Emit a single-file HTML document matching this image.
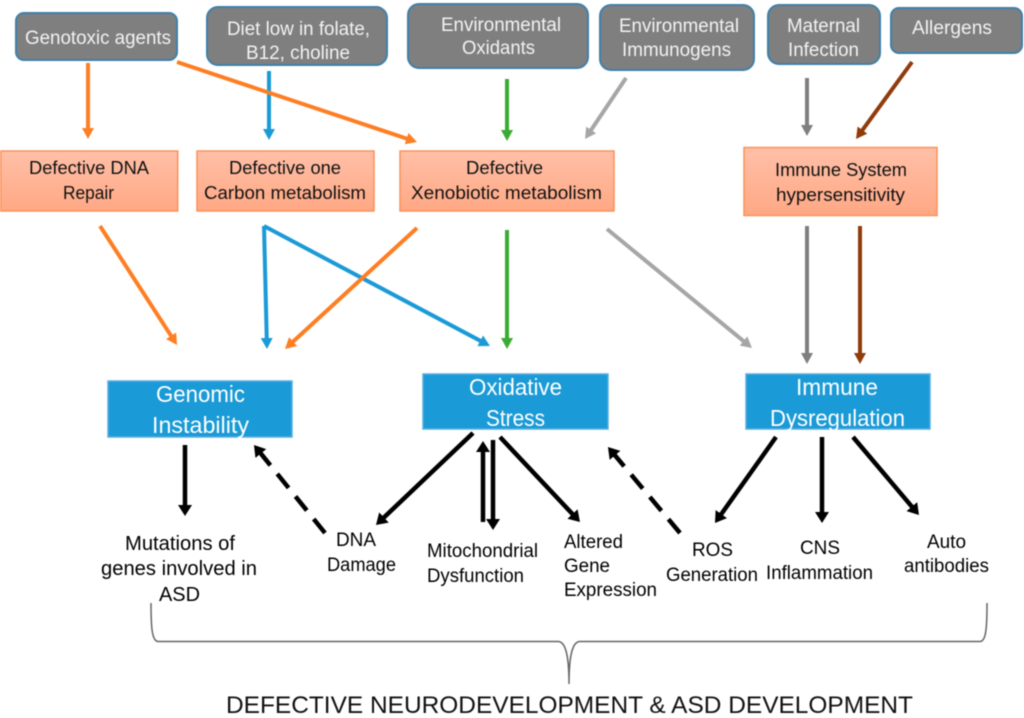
<!DOCTYPE html>
<html><head><meta charset="utf-8"><style>
html,body{margin:0;padding:0;background:#fff;width:1024px;height:718px;overflow:hidden}
svg{display:block;filter:blur(0.4px)}
text{font-family:"Liberation Sans",sans-serif;text-anchor:start}
.g text,.g{fill:#f2f2f2;font-size:19px}
.o{fill:#111;font-size:18.500px}
.b{fill:#fff;font-size:23px}
.k{fill:#000;font-size:19px}
.gb{fill:#7f7f7f;stroke:#3f80a8;stroke-width:2}
.ob{fill:url(#og);stroke:#fb9259;stroke-width:1.5}
.bb{fill:#1a9ad6;stroke:#5aaee0;stroke-width:1.5}
line{fill:none}
</style></head><body>
<svg width="1024" height="718" viewBox="0 0 1024 718" xmlns="http://www.w3.org/2000/svg">
<defs>
<linearGradient id="og" x1="0" y1="0" x2="0" y2="1"><stop offset="0" stop-color="#ffc0a8"/><stop offset="1" stop-color="#ffa884"/></linearGradient>
<marker id="mo" markerUnits="userSpaceOnUse" markerWidth="14" markerHeight="14" refX="3" refY="6.500" orient="auto"><path d="M0 0.500L11 6.500L0 12.500Z" fill="#fd7e23"/></marker>
<marker id="mb" markerUnits="userSpaceOnUse" markerWidth="14" markerHeight="14" refX="3" refY="6.500" orient="auto"><path d="M0 0.500L11 6.500L0 12.500Z" fill="#1a9ad6"/></marker>
<marker id="mg" markerUnits="userSpaceOnUse" markerWidth="14" markerHeight="14" refX="3" refY="6.500" orient="auto"><path d="M0 0.500L11 6.500L0 12.500Z" fill="#3cab34"/></marker>
<marker id="ml" markerUnits="userSpaceOnUse" markerWidth="14" markerHeight="14" refX="3" refY="6.500" orient="auto"><path d="M0 0.500L11 6.500L0 12.500Z" fill="#a6a6a6"/></marker>
<marker id="md" markerUnits="userSpaceOnUse" markerWidth="14" markerHeight="14" refX="3" refY="6.500" orient="auto"><path d="M0 0.500L11 6.500L0 12.500Z" fill="#7f7f7f"/></marker>
<marker id="mr" markerUnits="userSpaceOnUse" markerWidth="14" markerHeight="14" refX="3" refY="6.500" orient="auto"><path d="M0 0.500L11 6.500L0 12.500Z" fill="#8f3b0a"/></marker>
<marker id="mk" markerUnits="userSpaceOnUse" markerWidth="16" markerHeight="16" refX="3" refY="7" orient="auto"><path d="M0 0L11 7L0 14Z" fill="#000"/></marker>
</defs>

<!-- grey source boxes -->
<rect class="gb" x="16" y="13" width="161" height="47" rx="8"/>
<rect class="gb" x="207" y="7" width="180" height="58" rx="11"/>
<rect class="gb" x="408" y="4" width="180" height="64" rx="11"/>
<rect class="gb" x="600" y="5" width="154" height="65" rx="11"/>
<rect class="gb" x="768" y="5" width="112" height="59" rx="11"/>
<rect class="gb" x="891" y="8" width="131" height="45" rx="8"/>
<g class="g">
<text x="25" y="44" textLength="146" lengthAdjust="spacingAndGlyphs">Genotoxic agents</text>
<text x="227" y="35" textLength="143" lengthAdjust="spacingAndGlyphs">Diet low in folate,</text>
<text x="246" y="59" textLength="104" lengthAdjust="spacingAndGlyphs">B12, choline</text>
<text x="441" y="31" textLength="120" lengthAdjust="spacingAndGlyphs">Environmental</text>
<text x="462" y="54" textLength="73" lengthAdjust="spacingAndGlyphs">Oxidants</text>
<text x="619" y="32" textLength="120" lengthAdjust="spacingAndGlyphs">Environmental</text>
<text x="622" y="56" textLength="109" lengthAdjust="spacingAndGlyphs">Immunogens</text>
<text x="787" y="32" textLength="73" lengthAdjust="spacingAndGlyphs">Maternal</text>
<text x="788" y="56" textLength="71" lengthAdjust="spacingAndGlyphs">Infection</text>
<text x="912" y="34" textLength="80" lengthAdjust="spacingAndGlyphs">Allergens</text>
</g>

<!-- orange boxes -->
<rect class="ob" x="0.7" y="151" width="177" height="60"/>
<rect class="ob" x="197" y="151" width="177" height="60"/>
<rect class="ob" x="400" y="151" width="214" height="60"/>
<rect class="ob" x="744" y="147.500" width="193" height="68"/>
<g class="o">
<text x="29" y="174" textLength="120" lengthAdjust="spacingAndGlyphs">Defective DNA</text>
<text x="63" y="199" textLength="51" lengthAdjust="spacingAndGlyphs">Repair</text>
<text x="229" y="174" textLength="112" lengthAdjust="spacingAndGlyphs">Defective one</text>
<text x="204" y="199" textLength="162" lengthAdjust="spacingAndGlyphs">Carbon metabolism</text>
<text x="466" y="174" textLength="77" lengthAdjust="spacingAndGlyphs">Defective</text>
<text x="411" y="199" textLength="191" lengthAdjust="spacingAndGlyphs">Xenobiotic metabolism</text>
<text x="775" y="176" textLength="132" lengthAdjust="spacingAndGlyphs">Immune System</text>
<text x="776" y="201" textLength="129" lengthAdjust="spacingAndGlyphs">hypersensitivity</text>
</g>

<!-- blue boxes -->
<rect class="bb" x="108" y="381" width="184" height="56"/>
<rect class="bb" x="423" y="374" width="185" height="55"/>
<rect class="bb" x="746" y="374" width="184" height="55"/>
<g class="b">
<text x="156" y="402" textLength="89" lengthAdjust="spacingAndGlyphs">Genomic</text>
<text x="152" y="433" textLength="97" lengthAdjust="spacingAndGlyphs">Instability</text>
<text x="469" y="395" textLength="93" lengthAdjust="spacingAndGlyphs">Oxidative</text>
<text x="486" y="426" textLength="59" lengthAdjust="spacingAndGlyphs">Stress</text>
<text x="796" y="395" textLength="82" lengthAdjust="spacingAndGlyphs">Immune</text>
<text x="770" y="426" textLength="135" lengthAdjust="spacingAndGlyphs">Dysregulation</text>
</g>

<!-- coloured arrows -->
<g stroke-width="4">
<line x1="88" y1="63" x2="88" y2="131" stroke="#fd7e23" marker-end="url(#mo)"/>
<line x1="269" y1="71" x2="269" y2="132" stroke="#1a9ad6" marker-end="url(#mb)"/>
<line x1="177" y1="62" x2="409.400" y2="139.500" stroke="#fd7e23" marker-end="url(#mo)"/>
<line x1="507" y1="79" x2="507" y2="133" stroke="#3cab34" marker-end="url(#mg)"/>
<line x1="626" y1="78" x2="589.500" y2="132.400" stroke="#a6a6a6" marker-end="url(#ml)"/>
<line x1="807" y1="78" x2="807" y2="128" stroke="#7f7f7f" marker-end="url(#md)"/>
<line x1="912" y1="62" x2="860.700" y2="132.500" stroke="#8f3b0a" marker-end="url(#mr)"/>
<line x1="100" y1="226" x2="172.700" y2="338.300" stroke="#fd7e23" marker-end="url(#mo)"/>
<line x1="264" y1="226" x2="266.800" y2="341" stroke="#1a9ad6" marker-end="url(#mb)"/>
<line x1="264" y1="226" x2="482.900" y2="342.200" stroke="#1a9ad6" marker-end="url(#mb)"/>
<line x1="417" y1="228" x2="290.900" y2="343.600" stroke="#fd7e23" marker-end="url(#mo)"/>
<line x1="507" y1="230" x2="507" y2="341" stroke="#3cab34" marker-end="url(#mg)"/>
<line x1="607" y1="229" x2="745.800" y2="342.900" stroke="#a6a6a6" marker-end="url(#ml)"/>
<line x1="807" y1="226" x2="807" y2="356" stroke="#7f7f7f" marker-end="url(#md)"/>
<line x1="860" y1="226" x2="860" y2="356" stroke="#8f3b0a" marker-end="url(#mr)"/>
</g>

<!-- black arrows -->
<g stroke="#000" stroke-width="4.500">
<line x1="185" y1="445" x2="185" y2="508" marker-end="url(#mk)"/>
<line x1="325" y1="533" x2="259" y2="451.200" stroke-dasharray="18 11" marker-end="url(#mk)"/>
<line x1="473" y1="433" x2="381.800" y2="519.500" marker-end="url(#mk)"/>
<line x1="483" y1="522" x2="483" y2="449" marker-end="url(#mk)"/>
<line x1="493" y1="440" x2="493" y2="522" marker-end="url(#mk)"/>
<line x1="500" y1="437" x2="574.500" y2="516.200" marker-end="url(#mk)"/>
<line x1="680" y1="533" x2="613.100" y2="453.100" stroke-dasharray="18 11" marker-end="url(#mk)"/>
<line x1="776" y1="437" x2="719.600" y2="516.500" marker-end="url(#mk)"/>
<line x1="822" y1="437" x2="822" y2="515" marker-end="url(#mk)"/>
<line x1="853" y1="437" x2="913.800" y2="508.900" marker-end="url(#mk)"/>
</g>

<!-- outcome labels -->
<g class="k">
<text x="125" y="550" font-size="20" textLength="110" lengthAdjust="spacingAndGlyphs">Mutations of</text>
<text x="101" y="575" font-size="20" textLength="156" lengthAdjust="spacingAndGlyphs">genes involved in</text>
<text x="159" y="601" font-size="20" textLength="41" lengthAdjust="spacingAndGlyphs">ASD</text>
<text x="336" y="546" textLength="40" lengthAdjust="spacingAndGlyphs">DNA</text>
<text x="327" y="571" textLength="69" lengthAdjust="spacingAndGlyphs">Damage</text>
<text x="427" y="557" textLength="111" lengthAdjust="spacingAndGlyphs">Mitochondrial</text>
<text x="427" y="582" textLength="97" lengthAdjust="spacingAndGlyphs">Dysfunction</text>
<text x="564" y="548" textLength="59" lengthAdjust="spacingAndGlyphs">Altered</text>
<text x="564" y="572" textLength="46" lengthAdjust="spacingAndGlyphs">Gene</text>
<text x="564" y="596" textLength="93" lengthAdjust="spacingAndGlyphs">Expression</text>
<text x="692" y="556" textLength="41" lengthAdjust="spacingAndGlyphs">ROS</text>
<text x="666" y="581" textLength="92" lengthAdjust="spacingAndGlyphs">Generation</text>
<text x="800" y="554" textLength="40" lengthAdjust="spacingAndGlyphs">CNS</text>
<text x="766" y="579" textLength="107" lengthAdjust="spacingAndGlyphs">Inflammation</text>
<text x="927" y="548" textLength="39" lengthAdjust="spacingAndGlyphs">Auto</text>
<text x="904" y="572" textLength="85" lengthAdjust="spacingAndGlyphs">antibodies</text>
</g>

<!-- brace -->
<path d="M151 603C151 628 152 641 158 641.500L558 641.500C564 641.500 569 650 569 684C569 650 574 641.500 580 641.500L980 641.500C986 641.500 987 628 987 603" fill="none" stroke="#666" stroke-width="1.500"/>

<text x="226" y="713" font-size="24" fill="#111" textLength="687" lengthAdjust="spacingAndGlyphs">DEFECTIVE NEURODEVELOPMENT &amp; ASD DEVELOPMENT</text>
</svg>
</body></html>
